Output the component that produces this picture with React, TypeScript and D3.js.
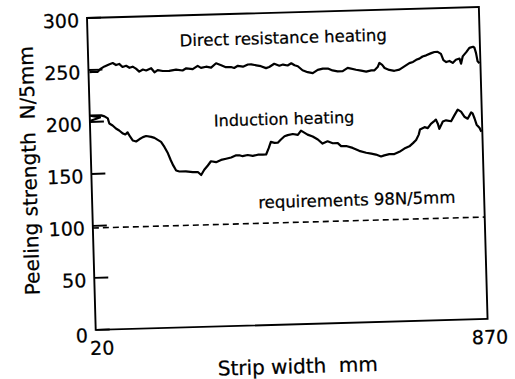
import React from 'react';
import * as d3 from 'd3';

// strip width (mm) vs peeling strength (N/5mm)
const directResistance = [
  [22, 248], [29, 248], [40, 248], [47, 251], [55, 253], [66, 255], [73, 256], [80, 254], [87, 255],
  [94, 252], [102, 253], [109, 251], [116, 252], [123, 250], [130, 247], [138, 249], [145, 248],
  [156, 250], [163, 246], [170, 248], [181, 247], [195, 247], [210, 248], [224, 247], [232, 249],
  [246, 248], [257, 251], [264, 249], [275, 250], [286, 249], [297, 253], [308, 251], [318, 249],
  [329, 249], [336, 248], [344, 250], [355, 249], [366, 251], [373, 251], [384, 250], [394, 249],
  [405, 247], [412, 248], [423, 251], [434, 249], [442, 250], [452, 249], [460, 251], [467, 249],
  [474, 248], [484, 244], [495, 242], [506, 241], [517, 244], [528, 245], [539, 245], [549, 243],
  [560, 242], [571, 242], [582, 245], [600, 243], [611, 242], [622, 241], [633, 242], [640, 242],
  [647, 245], [651, 249], [657, 247], [662, 244], [672, 242], [683, 241], [694, 242], [705, 245],
  [716, 248], [724, 249], [731, 251], [738, 252], [745, 254], [753, 255], [764, 257], [771, 258],
  [778, 258], [785, 256], [790, 250], [796, 248], [803, 249], [810, 247], [817, 250], [825, 251],
  [828, 246], [832, 253], [840, 257], [847, 261], [855, 262], [858, 261], [861, 256], [864, 248],
  [868, 246],
];

const induction = [
  [20, 201], [42, 204], [21, 206], [45, 206], [52, 205], [59, 203], [62, 198], [69, 196], [76, 193],
  [83, 191], [91, 188], [96, 187], [101, 189], [106, 185], [112, 181], [119, 180], [126, 182],
  [134, 184], [141, 185], [152, 184], [159, 183], [166, 181], [173, 179], [180, 174], [187, 168],
  [193, 161], [198, 156], [204, 151], [211, 150], [225, 150], [240, 149], [251, 149], [258, 146],
  [265, 151], [273, 155], [280, 159], [291, 158], [302, 160], [313, 161], [324, 162], [335, 164],
  [342, 164], [349, 163], [360, 164], [371, 163], [382, 164], [393, 164], [400, 164], [406, 170],
  [411, 176], [419, 175], [426, 175], [433, 178], [441, 181], [448, 182], [459, 183], [470, 182],
  [477, 186], [484, 184], [491, 182], [502, 180], [513, 177], [523, 173], [534, 175], [545, 173],
  [556, 173], [563, 170], [574, 170], [588, 168], [602, 165], [617, 163], [628, 162], [638, 161],
  [649, 159], [656, 160], [667, 161], [678, 161], [689, 163], [700, 166], [711, 168], [719, 171],
  [726, 174], [732, 179], [735, 184], [745, 186], [752, 185], [759, 189], [765, 191], [770, 193],
  [774, 189], [777, 184], [785, 191], [792, 192], [803, 191], [811, 197], [818, 202], [825, 200],
  [832, 195], [839, 193], [847, 199], [850, 198], [854, 193], [858, 187], [864, 184], [868, 180],
];

const requirement = 98;
const yTicks = [0, 50, 100, 150, 200, 250, 300];
const xTickLabels = ['20', '870'];
const xDomain = [20, 870];

const App = () => {
  const w = 392;
  const h = 312;
  const font = '"DejaVu Sans", sans-serif';

  const x = d3.scaleLinear().domain(xDomain).range([0, w]);
  const y = d3.scaleLinear().domain([0, 300]).range([h, 0]);

  const line = d3.line<number[]>()
    .x(d => x(d[0]))
    .y(d => y(d[1]));

  return (
    <svg width={515} height={379} style={{ position: 'absolute', left: 0, top: 0, background: '#fff' }}>
      {/* the scan is a little tilted, so the whole plot is too */}
      <g transform="translate(87,18) rotate(-1.6)" fontFamily={font} fill="#000"
        stroke="#000" strokeWidth={0.25}>
        <rect x={0} y={0} width={w} height={h} fill="none" stroke="#000" strokeWidth={1.9} />

        {yTicks.map(t => (
          <g key={t}>
            <line x1={0} x2={14} y1={y(t)} y2={y(t)} stroke="#000" strokeWidth={1.9} />
            <text x={-8} y={y(t) + (t === 0 ? 5 : 2)} textAnchor="end" dominantBaseline="central" fontSize={19}>
              {t}
            </text>
          </g>
        ))}

        <text x={x(xDomain[0]) + 6} y={h + 18} textAnchor="middle" dominantBaseline="central" fontSize={19}>
          {xTickLabels[0]}
        </text>
        <text x={x(xDomain[1]) + 2} y={h + 18} textAnchor="middle" dominantBaseline="central" fontSize={19}>
          {xTickLabels[1]}
        </text>

        <line x1={0} x2={w} y1={y(requirement)} y2={y(requirement)}
          stroke="#000" strokeWidth={1.6} strokeDasharray="6 4" />

        <path d={line(directResistance) ?? ''} fill="none" stroke="#000" strokeWidth={2.2} strokeLinejoin="round" />
        <path d={line(induction) ?? ''} fill="none" stroke="#000" strokeWidth={2.2} strokeLinejoin="round" />

        <text x={92} y={31} fontSize={16.5}>Direct resistance heating</text>
        <text x={124} y={112} fontSize={16}>Induction heating</text>
        <text x={166} y={195} fontSize={16.5}>requirements 98N/5mm</text>

        <text x={w / 2 + 5} y={361} textAnchor="middle" fontSize={20}>{'Strip width\u00A0 mm'}</text>
        <text transform={`translate(-55,${h / 2 - 5}) rotate(-90)`} textAnchor="middle" fontSize={20}>
          {'Peeling strength\u00A0 N/5mm'}
        </text>
      </g>
    </svg>
  );
};

export default App;
